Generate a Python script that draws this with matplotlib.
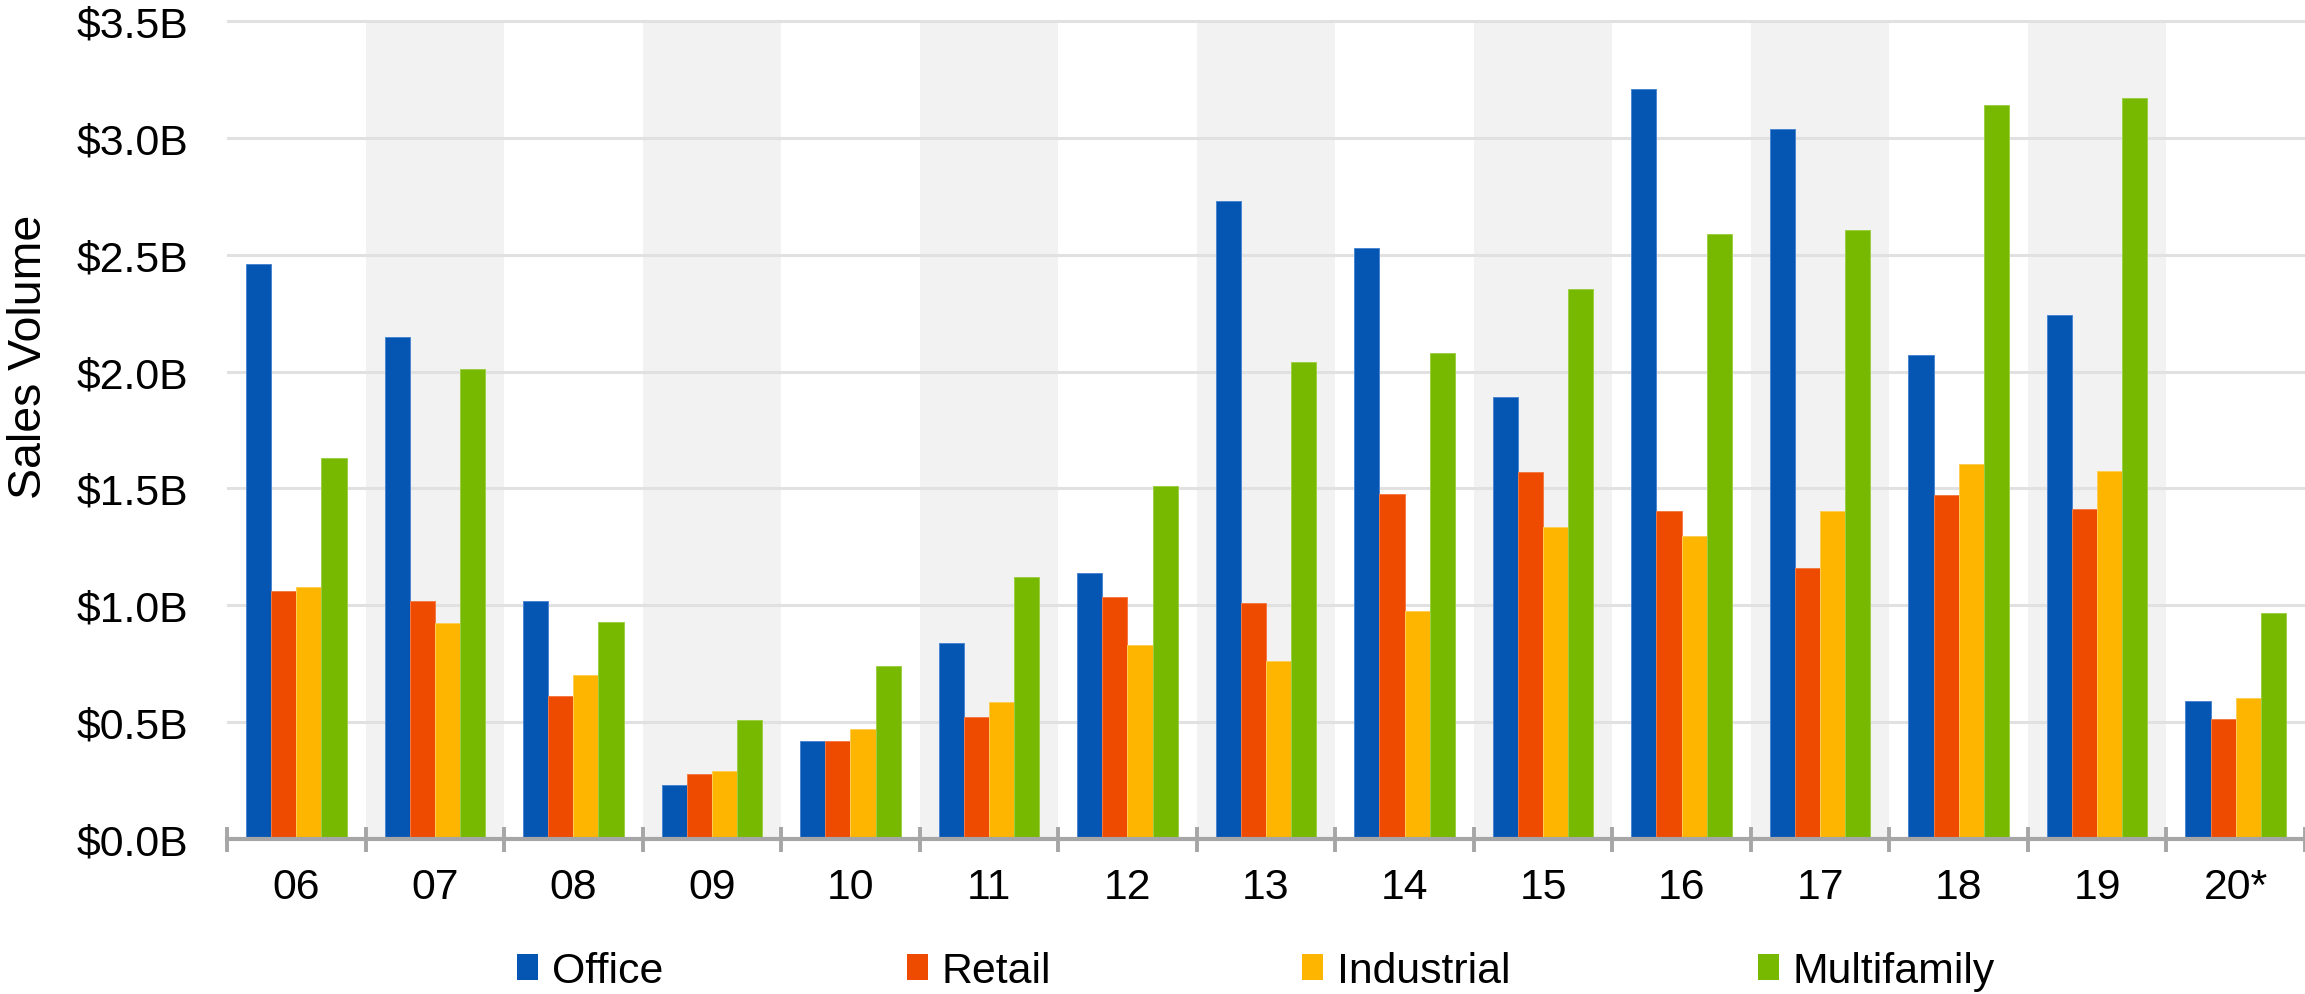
import matplotlib
matplotlib.use("Agg")
import matplotlib.pyplot as plt
import numpy as np
from matplotlib.ticker import FixedLocator, FuncFormatter
from matplotlib.patches import Patch

years = ['06', '07', '08', '09', '10', '11', '12', '13', '14', '15', '16', '17', '18', '19', '20*']
office = [2.46, 2.15, 1.02, 0.23, 0.42, 0.84, 1.14, 2.73, 2.53, 1.89, 3.21, 3.04, 2.07, 2.24, 0.59]
retail = [1.06, 1.02, 0.61, 0.28, 0.42, 0.52, 1.035, 1.01, 1.475, 1.57, 1.405, 1.16, 1.47, 1.41, 0.515]
industrial = [1.08, 0.925, 0.70, 0.29, 0.47, 0.585, 0.83, 0.76, 0.975, 1.335, 1.295, 1.405, 1.605, 1.575, 0.605]
multifamily = [1.63, 2.01, 0.93, 0.51, 0.74, 1.12, 1.51, 2.04, 2.08, 2.355, 2.59, 2.605, 3.14, 3.17, 0.965]
series_names = ['Office', 'Retail', 'Industrial', 'Multifamily']
yticks = [0.0, 0.5, 1.0, 1.5, 2.0, 2.5, 3.0, 3.5]

colors = ['#0556b3', '#ee4a00', '#feb500', '#77b900']
edges = ['#4a86d0', '#f47a45', '#ffcd55', '#9ccf45']

plt.rcParams['font.family'] = ['Liberation Sans', 'DejaVu Sans']
FS = 30.8

W, H = 2305, 995
fig = plt.figure(figsize=(W / 100, H / 100), dpi=100)
left = 227 / W
bottom = 1 - 840 / H
ymax = 3.52
top_px = 840 - (840 - 22) * ymax / 3.5
ax = fig.add_axes([left, bottom, 1 - left, (840 - top_px) / H])

n = len(years)
x = np.arange(n)
ax.set_xlim(-0.5, n - 0.5)
ax.set_ylim(0, ymax)

# alternating shaded bands
for i in range(n):
    if i % 2 == 1:
        ax.fill_between([i - 0.5, i + 0.5], 0, 3.5, color='#f2f2f2', lw=0, zorder=0)

# gridlines
for t in yticks[1:]:
    ax.axhline(t, color='#e1e1e1', lw=2.2, zorder=1)

w = 0.1815
data = [office, retail, industrial, multifamily]
for k, (vals, name) in enumerate(zip(data, series_names)):
    ax.bar(x + (k - 1.5) * w, vals, width=w, color=colors[k], edgecolor=edges[k],
           linewidth=0.7, label=name, zorder=3)

for s in ['top', 'right', 'left']:
    ax.spines[s].set_visible(False)
ax.spines['bottom'].set_color('#a6a6a6')
ax.spines['bottom'].set_linewidth(3)
ax.spines['bottom'].set_zorder(4)

ax.set_xticks(x)
ax.set_xticklabels(years, fontsize=FS)
ax.xaxis.set_minor_locator(FixedLocator(np.arange(-0.5, n, 1.0)))
ax.tick_params(axis='x', which='major', direction='in', length=6, width=2.8,
               color='#a6a6a6', pad=20)
ax.tick_params(axis='x', which='minor', direction='inout', length=18, width=2.8,
               color='#a6a6a6')

ax.set_yticks(yticks)
ax.yaxis.set_major_formatter(FuncFormatter(lambda v, p: f'${v:.1f}B'))
ax.tick_params(axis='y', length=0, labelsize=FS, pad=28)

fig.text(29 / W, 1 - 357 / H, 'Sales Volume', rotation=90, ha='center', va='center',
         fontsize=33.5)

# legend entries placed individually
legend_x = [517, 907, 1302, 1758]
for k, name in enumerate(series_names):
    fig.legend([Patch(facecolor=colors[k], edgecolor='none')], [name], loc='center left',
               bbox_to_anchor=(legend_x[k] / W, 1 - 972 / H), frameon=False, fontsize=FS,
               handlelength=0.48, handleheight=0.55, handletextpad=0.33,
               borderpad=0, borderaxespad=0)

fig.savefig('out.png', dpi=100)
